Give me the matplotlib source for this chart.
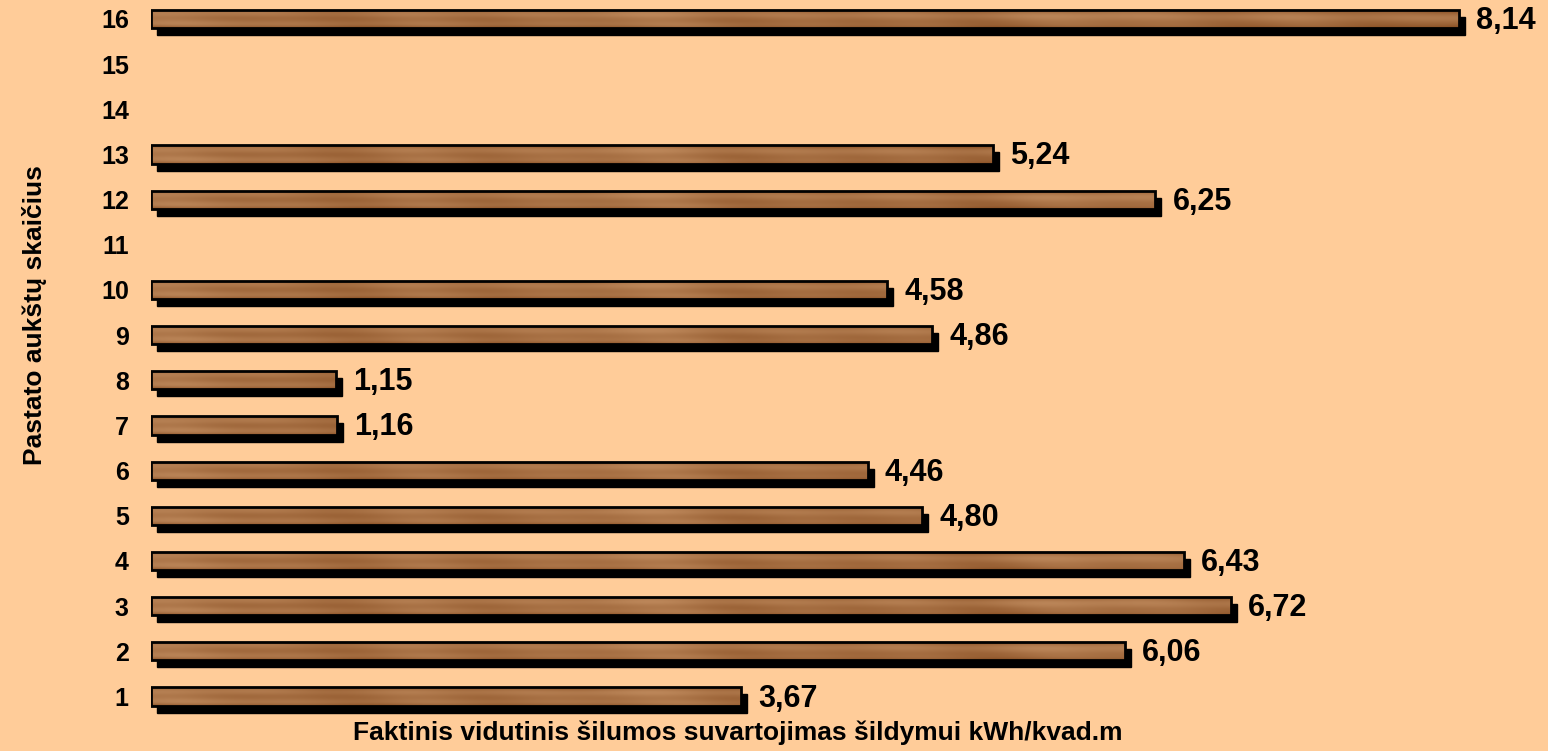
import numpy as np
import matplotlib
matplotlib.use("Agg")
import matplotlib.pyplot as plt
from matplotlib.patches import Rectangle
from matplotlib.transforms import offset_copy

floors = list(range(1, 17))
values = [3.67, 6.06, 6.72, 6.43, 4.80, 4.46, 1.16, 1.15, 4.86, 4.58, None, 6.25, 5.24, None, None, 8.14]
labels = ["3,67", "6,06", "6,72", "6,43", "4,80", "4,46", "1,16", "1,15", "4,86", "4,58", "", "6,25", "5,24", "", "", "8,14"]
x_title = "Faktinis vidutinis šilumos suvartojimas šildymui kWh/kvad.m"
y_title = "Pastato aukštų skaičius"

plt.rcParams["font.family"] = ["Liberation Sans", "DejaVu Sans"]
BG = "#FFCC99"

W, H, DPI = 1548, 751, 100
fig = plt.figure(figsize=(W / DPI, H / DPI), dpi=DPI, facecolor=BG)
ax = fig.add_axes([151 / W, 32 / H, 1 - 151 / W, 1 - 32 / H])
ax.set_facecolor(BG)
ax.set_xlim(0, (W - 151) / 160.7)
ax.set_ylim(0.502, 16.42)
for s in ax.spines.values():
    s.set_visible(False)

# wood-like grain texture (deterministic, style only)
gx = np.linspace(0, 60, 900)
gy = np.linspace(0, 1, 24)
X, Y = np.meshgrid(gx, gy)
blot = (np.sin(X * 0.45 + 1.3 * np.sin(Y * 3.0)) * np.sin(X * 0.17 + 0.8)
        + 0.5 * np.sin(X * 1.1 + 2.0 * Y))
grain = 0.5 + 0.09 * blot + 0.08 * np.sin(Y * 9 + X * 0.05) - 0.4 * (2 * Y - 1) ** 4
grain = np.clip(grain, 0, 1)
dark = np.array([0.50, 0.27, 0.10])
light = np.array([0.84, 0.64, 0.46])
tex = dark + grain[..., None] * (light - dark)

bar_h = 0.4
shadow = offset_copy(ax.transData, fig=fig, x=6, y=-7, units="dots")
for f, v, lab in zip(floors, values, labels):
    if v is None:
        continue
    y0 = f - bar_h / 2
    ax.add_patch(Rectangle((0, y0), v, bar_h, transform=shadow,
                           facecolor="black", edgecolor="black", zorder=2))
    rect = Rectangle((0, y0), v, bar_h, facecolor="none",
                     edgecolor="black", linewidth=2, zorder=4)
    ax.add_patch(rect)
    ncols = int(900 * v / 8.2)
    im = ax.imshow(tex[:, :max(ncols, 10)], extent=(0, v, y0, y0 + bar_h),
                   aspect="auto", origin="lower", zorder=3, interpolation="bilinear")
    im.set_clip_path(rect)
    ax.annotate(lab, (v, f), xytext=(17, -2), textcoords="offset pixels",
                ha="left", va="center", fontsize=22, fontweight="bold", zorder=5)

ax.set_yticks(floors)
ax.set_yticklabels([str(f) for f in floors], fontsize=18, fontweight="bold")
ax.tick_params(axis="y", length=0, pad=16)
ax.set_xticks([])
fig.text(738 / W, 1 - 733 / H, x_title, ha="center", va="center", fontsize=19, fontweight="bold")
fig.text(35 / W, 1 - 315 / H, y_title, rotation=90, ha="center", va="center",
         fontsize=19, fontweight="bold")

fig.savefig("out.png", dpi=DPI, facecolor=BG)
